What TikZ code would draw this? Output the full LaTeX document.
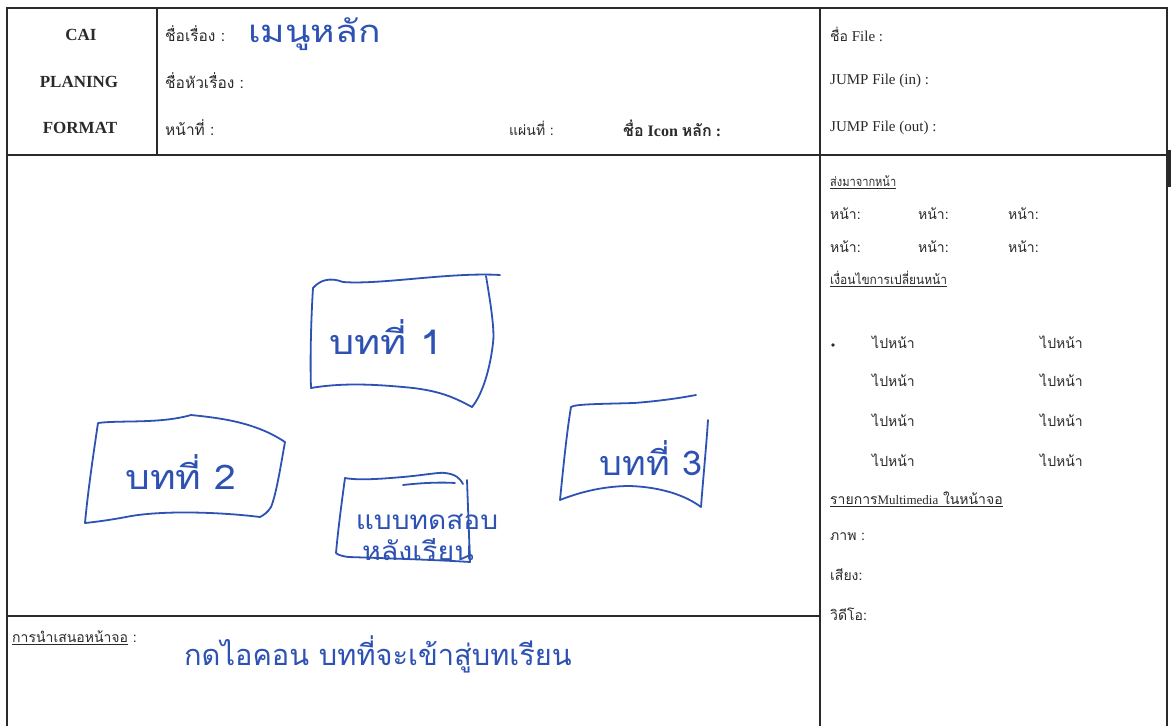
\documentclass[tikz,border=0pt]{standalone}
\usepackage{fontspec}
\setmainfont{Liberation Serif}
\newfontfamily\thaifont[Script=Thai]{Loma}
\newfontfamily\handfont[Script=Thai]{Loma}
\definecolor{pen}{HTML}{2D52B3}
\definecolor{ink}{HTML}{2A2A2A}
\newcommand{\thsz}[1]{\thaifont\fontsize{#1}{#1}\selectfont}
\begin{document}
\begin{tikzpicture}[x=1pt,y=-1pt,
  frame/.style={draw=ink, line width=1.4pt},
  lat/.style={inner sep=0pt, text=ink, font=\fontsize{15}{17}\selectfont},
  capt/.style={inner sep=0pt, text=ink, font=\bfseries\fontsize{17}{19}\selectfont},
  thl/.style={inner sep=0pt, anchor=west, text=ink, font=\thsz{14}},
  thh/.style={inner sep=0pt, anchor=west, text=ink, font=\thsz{15.5}},
  penline/.style={draw=pen, line width=1.8pt, line join=round, line cap=round},
  handtxt/.style={inner sep=0pt, text=pen, font=\handfont\fontsize{34}{36}\selectfont}]
\useasboundingbox (0,0) rectangle (1176,726);
\fill[white] (0,0) rectangle (1176,726);
% frame
\draw[frame] (7,726) -- (7,8) -- (1167,8) -- (1167,726);
\draw[frame] (7,155) -- (1167,155);
\draw[frame] (157,8) -- (157,155);
\draw[frame] (820,8) -- (820,726);
\draw[frame] (7,616) -- (820,616);
\draw[ink, line width=3pt] (1169,150) -- (1169,187);
% header left
\node[capt] (cai) at (81,35) {CAI};
\node[capt] (plan) at (79,82) {PLANING};
\node[capt] (fmt) at (80,128) {FORMAT};
% header middle
\node[thh] (t1) at (165,34) {ชื่อเรื่อง :};
\node[thh] (t2) at (165,81) {ชื่อหัวเรื่อง :};
\node[thh] (t3) at (165,128) {หน้าที่ :};
\node[thl] (t4) at (509,128) {แผ่นที่ :};
\node[lat, anchor=west, font=\bfseries\fontsize{16}{18}\selectfont] (t5) at (623,128) {{\thsz{16}ชื่อ} Icon {\thsz{16}หลัก} :};
% header right
\node[lat, anchor=west] (f1) at (830,34) {{\thsz{14}ชื่อ} File :};
\node[lat, anchor=west] (f2) at (830,81) {JUMP File (in) :};
\node[lat, anchor=west] (f3) at (830,128) {JUMP File (out) :};
% right panel
\node[thl, font=\thsz{13}] (s1) at (830,182) {\scalebox{0.85}[1]{\underline{ส่งมาจากหน้า}}};
\node[thl] (p11) at (830,214) {หน้า:};
\node[thl] (p12) at (918,214) {หน้า:};
\node[thl] (p13) at (1008,214) {หน้า:};
\node[thl] (p21) at (830,247) {หน้า:};
\node[thl] (p22) at (918,247) {หน้า:};
\node[thl] (p23) at (1008,247) {หน้า:};
\node[thl, font=\thsz{13}] (c1) at (830,279) {\scalebox{0.92}[1]{\underline{เงื่อนไขการเปลี่ยนหน้า}}};
\node[circle, fill=ink, inner sep=1.3pt] (bul) at (833,345) {};
\foreach \yy/\k in {342/1,380/2,420/3,460/4}{
  \node[thl] (ga\k) at (872,\yy) {ไปหน้า};
  \node[thl] (gb\k) at (1040,\yy) {ไปหน้า};
}
\node[thl] (m1) at (830,499) {\underline{รายการ{\rmfamily\fontsize{13}{15}\selectfont Multimedia} ในหน้าจอ}};
\node[thl] (m2) at (830,537) {ภาพ :};
\node[thl] (m3) at (830,575) {เสียง:};
\node[thl] (m4) at (830,614) {วิดีโอ:};
% bottom
\node[thl] (pres) at (12,638) {\underline{การนำเสนอหน้าจอ} :};
\node[handtxt, anchor=west, font=\handfont\fontsize{29}{31}\selectfont] (hb) at (184,654) {กดไอคอน บทที่จะเข้าสู่บทเรียน};
% title
\node[handtxt, anchor=west, font=\handfont\fontsize{31}{33}\selectfont] (ht) at (248,34) {\scalebox{1.2}[1]{เมนูหลัก}};
% box 1
\draw[penline] (313,288) .. controls (320,280) and (330,277) .. (343,282)
  .. controls (380,285) and (450,272) .. (500,275);
\draw[penline] (486,276) .. controls (490,300) and (495,330) .. (493,343)
  .. controls (490,370) and (482,395) .. (472,407);
\draw[penline] (472,407) .. controls (455,398) and (440,390) .. (403,387)
  .. controls (370,384) and (340,383) .. (311,388)
  .. controls (310,360) and (311,320) .. (313,288);
\node[handtxt] (b1t) at (386,337) {\scalebox{1.17}[1]{บทที่ 1}};
% box 2
\draw[penline] (98,423) .. controls (120,420) and (160,424) .. (191,415)
  .. controls (220,418) and (255,422) .. (285,442)
  .. controls (280,470) and (276,495) .. (271,507)
  .. controls (268,512) and (264,515) .. (260,517)
  .. controls (220,512) and (160,510) .. (126,517)
  .. controls (110,520) and (95,522) .. (85,523)
  .. controls (88,490) and (94,450) .. (98,423);
\node[handtxt] (b2t) at (181,472) {\scalebox{1.15}[1]{บทที่ 2}};
% box 3
\draw[penline] (571,407) .. controls (575,404) and (600,404) .. (634,403)
  .. controls (660,401) and (680,398) .. (696,395);
\draw[penline] (708,420) .. controls (706,450) and (703,480) .. (701,507);
\draw[penline] (701,507) .. controls (685,495) and (660,487) .. (630,486)
  .. controls (600,486) and (575,494) .. (560,500)
  .. controls (563,470) and (567,430) .. (571,407);
\node[handtxt] (b3t) at (651,458) {\scalebox{1.06}[1]{บทที่ 3}};
% box 4
\draw[penline] (345,478) .. controls (360,481) and (390,478) .. (403,477)
  .. controls (425,475) and (440,472) .. (445,473)
  .. controls (455,474) and (460,478) .. (463,484);
\draw[penline] (403,485) .. controls (420,483) and (440,482) .. (455,483);
\draw[penline] (467,480) -- (470,562);
\draw[penline] (470,562) .. controls (440,560) and (380,558) .. (348,557)
  .. controls (342,556) and (338,555) .. (336,553)
  .. controls (338,530) and (342,500) .. (345,478);
\node[handtxt, font=\handfont\fontsize{26}{28}\selectfont] (b4a) at (427,522) {\scalebox{1.08}[1]{แบบทดสอบ}};
\node[handtxt, font=\handfont\fontsize{26}{28}\selectfont] (b4b) at (418,550) {\scalebox{1.1}[1]{หลังเรียน}};
\end{tikzpicture}
\end{document}
